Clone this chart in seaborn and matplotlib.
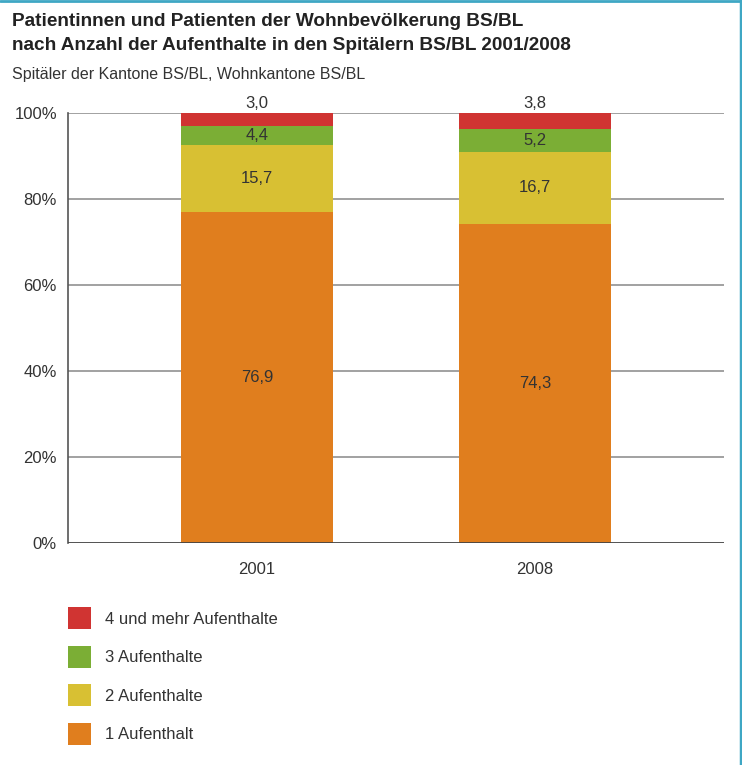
import matplotlib
matplotlib.use("Agg")
import matplotlib.pyplot as plt
import seaborn as sns
import pandas as pd
from matplotlib.patches import Patch
from matplotlib.lines import Line2D

years = ["2001", "2008"]
categories = ["1 Aufenthalt", "2 Aufenthalte", "3 Aufenthalte", "4 und mehr Aufenthalte"]
v1 = [76.9, 74.3]
v2 = [15.7, 16.7]
v3 = [4.4, 5.2]
v4 = [3.0, 3.8]
series = [v1, v2, v3, v4]
colors = ["#E07E1E", "#D8C033", "#7BAE35", "#D03432"]
yticks = [0, 20, 40, 60, 80, 100]
ytick_labels = ["0%", "20%", "40%", "60%", "80%", "100%"]

sns.set_theme(style="white")
FONT = ["Liberation Sans", "DejaVu Sans"]
plt.rcParams["font.family"] = FONT
TXT = "#333333"

fig = plt.figure(figsize=(7.42, 7.65), dpi=100)
ax = fig.add_axes([68/742, 1-543/765, (724-68)/742, (543-113)/765])

bottom = [0.0, 0.0]
for cat, vals, col in zip(categories, series, colors):
    df = pd.DataFrame({"Jahr": years, "Wert": vals})
    sns.barplot(data=df, x="Jahr", y="Wert", color=col, width=0.547,
                bottom=bottom, ax=ax, saturation=1, linewidth=0, zorder=3)
    for i, (b, v) in enumerate(zip(bottom, vals)):
        lab = f"{v:.1f}".replace(".", ",")
        if cat.startswith("4"):
            ax.text(i, b + v + 0.4, lab, ha="center", va="bottom", fontsize=12, color=TXT)
        else:
            ax.text(i, b + v / 2, lab, ha="center", va="center", fontsize=12, color=TXT)
    bottom = [b + v for b, v in zip(bottom, vals)]

ax.set_xlim(-0.68, 1.68)
ax.set_ylim(0, 100)
ax.set_yticks(yticks)
ax.set_yticklabels(ytick_labels)
ax.set_xlabel("")
ax.set_ylabel("")
for y in yticks[1:]:
    ax.axhline(y, color="#888888", lw=1.1, zorder=1)
ax.axhline(0, color="#444444", lw=1.3, zorder=4)
for s in ["top", "right", "bottom"]:
    ax.spines[s].set_visible(False)
ax.spines["left"].set_color("#555555")
ax.spines["left"].set_linewidth(1.2)
ax.tick_params(axis="both", length=0, labelsize=12, colors=TXT, pad=8)
ax.tick_params(axis="x", pad=14)

# title
fig.text(12/742, 1-21/765, "Patientinnen und Patienten der Wohnbevölkerung BS/BL",
         fontsize=13.7, fontweight="bold", color="#222222", va="center", ha="left")
fig.text(12/742, 1-46/765, "nach Anzahl der Aufenthalte in den Spitälern BS/BL 2001/2008",
         fontsize=13.7, fontweight="bold", color="#222222", va="center", ha="left")
fig.text(12/742, 1-74/765, "Spitäler der Kantone BS/BL, Wohnkantone BS/BL",
         fontsize=11.5, color=TXT, va="center", ha="left")

# legend
handles = [Patch(facecolor=c, edgecolor="none") for c in colors][::-1]
labels = categories[::-1]
leg = fig.legend(handles, labels, loc="upper left", bbox_to_anchor=(67.7/742, 1-607/765),
                 frameon=False, fontsize=12, handlelength=1.38, handleheight=1.67,
                 labelspacing=0.98, handletextpad=0.84, borderpad=0, borderaxespad=0,
                 labelcolor=TXT)

# teal frame (top and right)
fig.add_artist(Line2D([0, 1], [1-1/765, 1-1/765], color="#3FA7C4", lw=2, transform=fig.transFigure))
fig.add_artist(Line2D([1-1.5/742, 1-1.5/742], [0, 1], color="#3FA7C4", lw=2.5, transform=fig.transFigure))

fig.savefig("out.png", dpi=100)
